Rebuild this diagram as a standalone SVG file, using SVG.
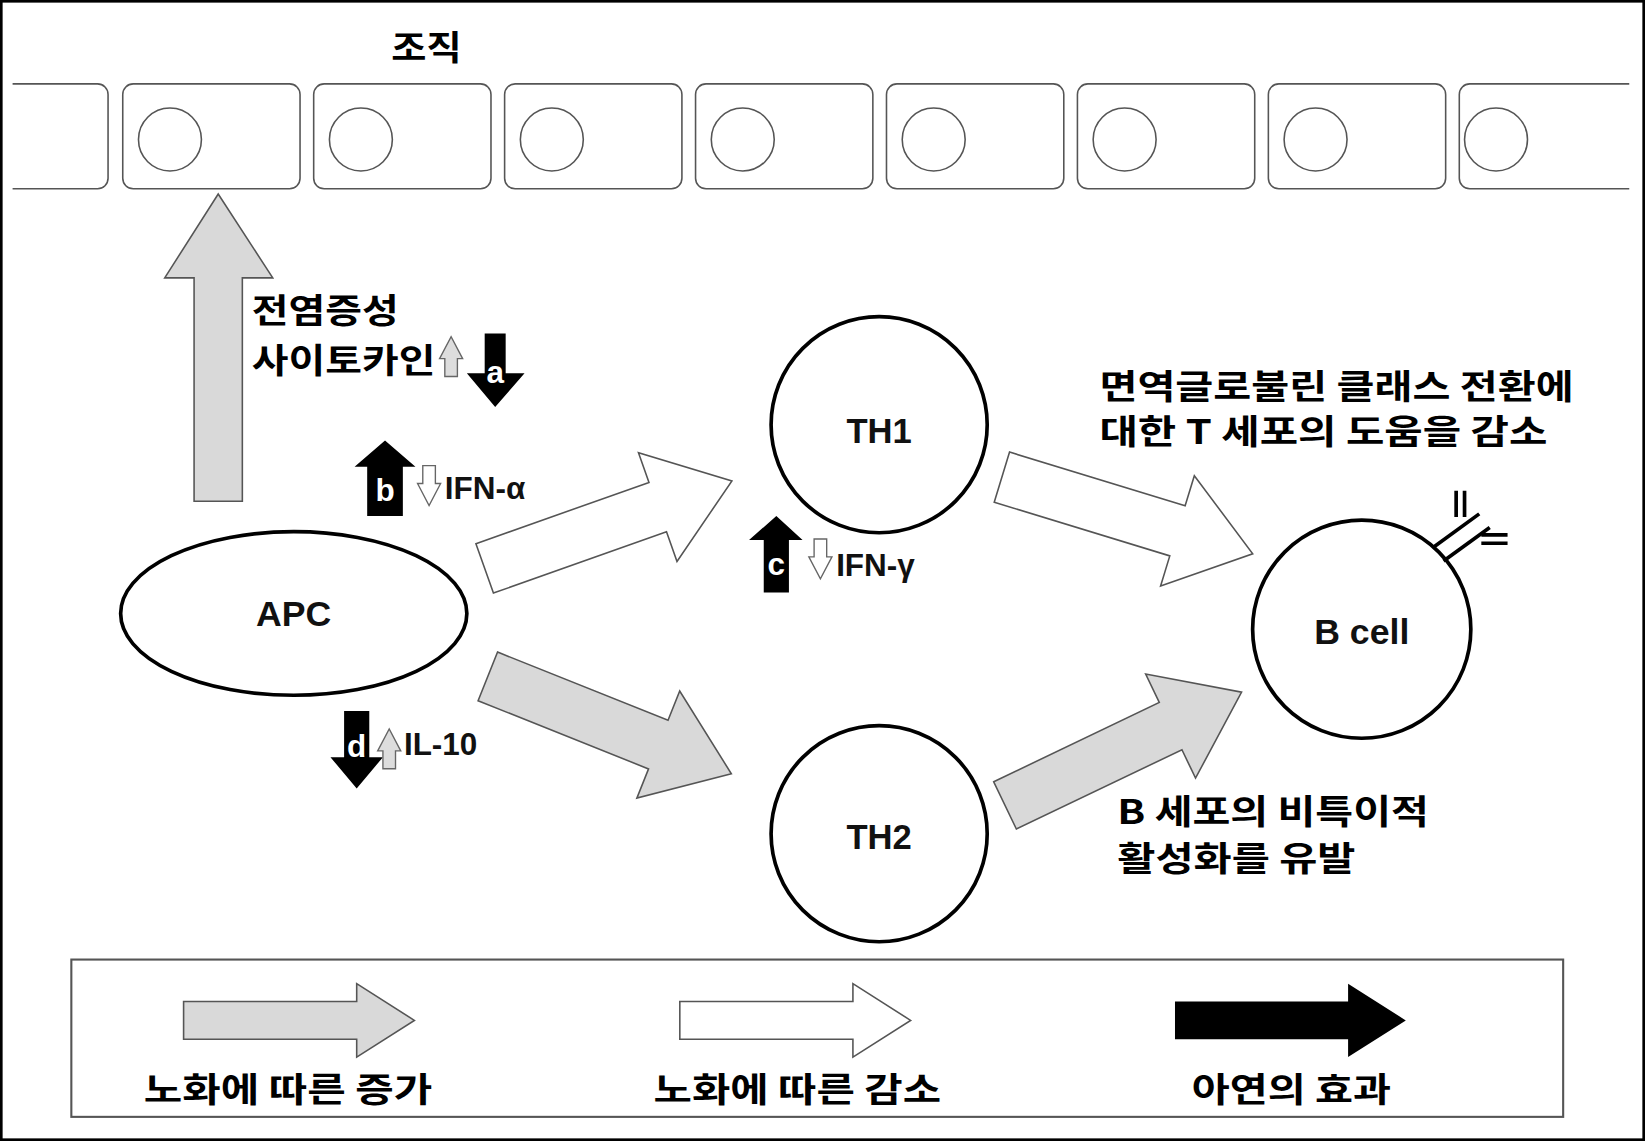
<svg xmlns="http://www.w3.org/2000/svg" width="1645" height="1141" viewBox="0 0 1645 1141">
<style>
.k{font-family:"Noto Sans CJK KR","Noto Sans",sans-serif;font-weight:bold;fill:#000}
.e{font-family:"Liberation Sans",Arial,sans-serif;font-weight:bold;fill:#111;text-anchor:middle}
.cell{fill:#fff;stroke:#555;stroke-width:1.5}
.gray{fill:#d9d9d9;stroke:#555;stroke-width:1.5}
.white{fill:#fff;stroke:#555;stroke-width:1.5}
.blk{fill:#000}
.node{fill:#fff;stroke:#000;stroke-width:3.5}
</style>
<defs>
<polygon id="big" points="0,-25 175,-25 175,-55 250,0 175,55 175,25 0,25"/>
<polygon id="leg" points="0,-18 165,-18 165,-35 220,0 165,35 165,18 0,18"/>
<polygon id="sm" points="-6,-19 6,-19 6,-2 11,-2 0,19 -11,-2 -6,-2"/>
</defs>
<rect width="1645" height="1141" fill="#fff"/>
<g transform="scale(1.0491,1.0487)">
<rect x="1" y="1" width="1566" height="1086" fill="none" stroke="#000" stroke-width="3"/>
<g id="tissue">
<text class="k" x="373" y="57" font-size="32" textLength="67" lengthAdjust="spacingAndGlyphs">조직</text>
<path class="cell" d="M12,80 H93 a10,10 0 0 1 10,10 V170 a10,10 0 0 1 -10,10 H12"/>
<g id="cells">
<rect class="cell" x="117" y="80" width="169" height="100" rx="10"/><circle class="cell" cx="162" cy="133" r="30"/>
<rect class="cell" x="299" y="80" width="169" height="100" rx="10"/><circle class="cell" cx="344" cy="133" r="30"/>
<rect class="cell" x="481" y="80" width="169" height="100" rx="10"/><circle class="cell" cx="526" cy="133" r="30"/>
<rect class="cell" x="663" y="80" width="169" height="100" rx="10"/><circle class="cell" cx="708" cy="133" r="30"/>
<rect class="cell" x="845" y="80" width="169" height="100" rx="10"/><circle class="cell" cx="890" cy="133" r="30"/>
<rect class="cell" x="1027" y="80" width="169" height="100" rx="10"/><circle class="cell" cx="1072" cy="133" r="30"/>
<rect class="cell" x="1209" y="80" width="169" height="100" rx="10"/><circle class="cell" cx="1254" cy="133" r="30"/>
<path class="cell" d="M1553,80 H1401 a10,10 0 0 0 -10,10 V170 a10,10 0 0 0 10,10 H1553"/><circle class="cell" cx="1426" cy="133" r="30"/>
</g>
</g>
<g id="connectors">
<polygon class="gray" points="185,478 185,265 157,265 208,185 260,265 231,265 231,478"/>
<use href="#big" class="white" transform="translate(462,542) rotate(-19.5)"/>
<use href="#big" class="white" transform="translate(955,455) rotate(17)"/>
<use href="#big" class="gray" transform="translate(465,645) rotate(21.8)"/>
<use href="#big" class="gray" transform="translate(958,768) rotate(-25.6)"/>
</g>
<g id="APC"><ellipse class="node" cx="280" cy="585" rx="165" ry="78"/><text class="e" x="280" y="597" font-size="34">APC</text></g>
<g id="TH1"><circle class="node" cx="838" cy="405" r="103"/><text class="e" x="838" y="422" font-size="33">TH1</text></g>
<g id="TH2"><circle class="node" cx="838" cy="795" r="103"/><text class="e" x="838" y="810" font-size="33">TH2</text></g>
<g id="Bcell"><circle class="node" cx="1298" cy="600" r="104"/><text class="e" x="1298" y="614" font-size="34">B cell</text>
<g stroke="#000" stroke-width="3.5" fill="none">
<path d="M1366,522 L1410,490 M1376,535 L1420,503"/>
<path d="M1388,468 V493 M1396,468 V493"/>
<path d="M1412,510 H1437 M1412,518 H1437"/>
</g></g>
<g id="labels">
<text class="k" x="240" y="308" font-size="32" textLength="140" lengthAdjust="spacingAndGlyphs">전염증성</text>
<text class="k" x="240" y="356" font-size="32" textLength="175" lengthAdjust="spacingAndGlyphs">사이토카인</text>
<use href="#sm" fill="#ddd" stroke="#666" stroke-width="1.3" transform="translate(430,340) rotate(180)"/>
<polygon class="blk" points="462,318 482,318 482,356 500,356 472,388 445,356 462,356"/>
<text x="472" y="365" font-size="30" class="e" style="fill:#fff">a</text>
<polygon class="blk" points="350,492 384,492 384,445 396,445 367,420 338,445 350,445"/>
<text x="367" y="478" font-size="30" class="e" style="fill:#fff">b</text>
<use href="#sm" fill="#fff" stroke="#666" stroke-width="1.3" transform="translate(409,463)"/>
<text class="e" x="424" y="476" font-size="30" style="text-anchor:start">IFN-α</text>
<polygon class="blk" points="728,565 752,565 752,515 765,515 740,492 714,515 728,515"/>
<text x="740" y="548" font-size="30" class="e" style="fill:#fff">c</text>
<use href="#sm" fill="#fff" stroke="#666" stroke-width="1.3" transform="translate(782,533)"/>
<text class="e" x="797" y="549" font-size="30" style="text-anchor:start">IFN-γ</text>
<polygon class="blk" points="328,678 352,678 352,722 365,722 340,752 315,722 328,722"/>
<text x="340" y="722" font-size="30" class="e" style="fill:#fff">d</text>
<use href="#sm" fill="#ddd" stroke="#666" stroke-width="1.3" transform="translate(371,714) rotate(180)"/>
<text class="e" x="385" y="720" font-size="30" style="text-anchor:start">IL-10</text>
<text class="k" x="1048" y="380" font-size="32" textLength="452" lengthAdjust="spacingAndGlyphs">면역글로불린 클래스 전환에</text>
<text class="k" x="1048" y="423" font-size="32" textLength="427" lengthAdjust="spacingAndGlyphs">대한 T 세포의 도움을 감소</text>
<text class="k" x="1065" y="786" font-size="32" textLength="297" lengthAdjust="spacingAndGlyphs">B 세포의 비특이적</text>
<text class="k" x="1065" y="831" font-size="32" textLength="227" lengthAdjust="spacingAndGlyphs">활성화를 유발</text>
</g>
<g id="legend">
<rect x="68" y="915" width="1422" height="150" fill="none" stroke="#555" stroke-width="2"/>
<use href="#leg" class="gray" transform="translate(175,973)"/>
<use href="#leg" class="white" transform="translate(648,973)"/>
<use href="#leg" fill="#000" transform="translate(1120,973)"/>
<text class="k" x="137" y="1051" font-size="32" textLength="275" lengthAdjust="spacingAndGlyphs">노화에 따른 증가</text>
<text class="k" x="623" y="1051" font-size="32" textLength="274" lengthAdjust="spacingAndGlyphs">노화에 따른 감소</text>
<text class="k" x="1136" y="1051" font-size="32" textLength="190" lengthAdjust="spacingAndGlyphs">아연의 효과</text>
</g>
</g>
</svg>
